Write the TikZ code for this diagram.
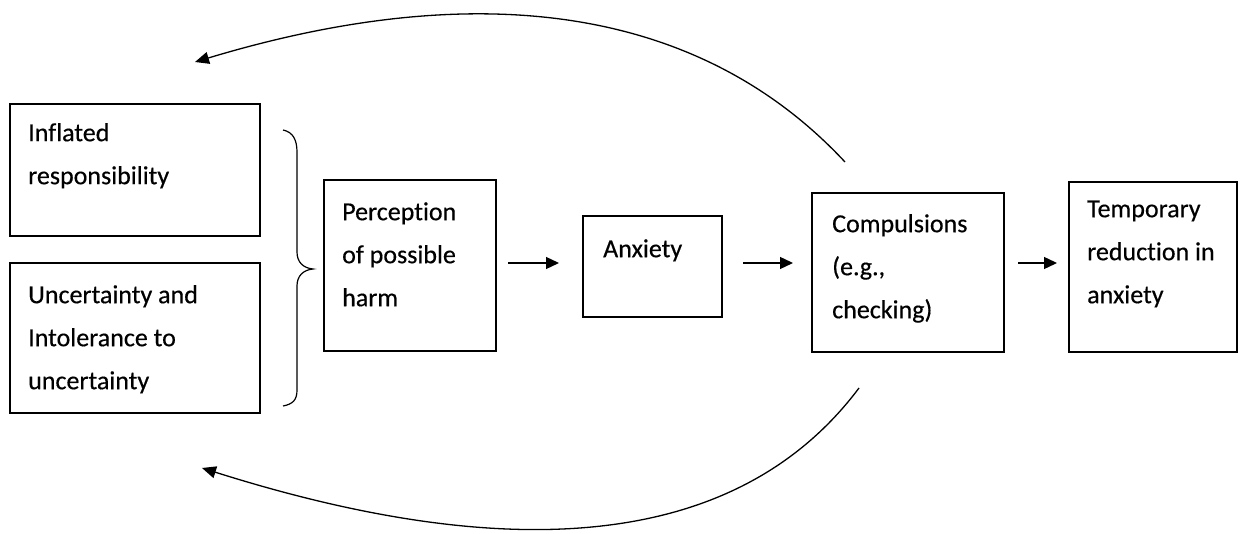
\documentclass[tikz,border=0pt]{standalone}
\usepackage{fontspec}
\setmainfont{Carlito}[Ligatures=NoCommon,FakeBold=0.4]
\usetikzlibrary{arrows.meta}
\begin{document}
\begin{tikzpicture}[x=1pt,y=-1pt,
  box/.style={draw=black,line width=1.3pt,inner sep=0pt,fill=none},
  txt/.style={anchor=north west,inner sep=0pt,align=left,font=\fontsize{26}{43}\selectfont},
  arr/.style={line width=1.3pt,-{Triangle[length=13pt,width=12pt]}},
  carr/.style={line width=1.3pt,-{Triangle[length=14pt,width=12pt]}}]
\useasboundingbox[fill=white] (0,0) rectangle (1244,534);
% boxes
\node[box,minimum width=250pt,minimum height=132pt] (b1) at (135,170) {};
\node[box,minimum width=250pt,minimum height=150pt] (b2) at (135,338) {};
\node[box,minimum width=172pt,minimum height=171pt] (perc) at (410,265.5) {};
\node[box,minimum width=139pt,minimum height=101pt] (anx) at (652.5,266.5) {};
\node[box,minimum width=192pt,minimum height=159pt] (comp) at (908,272.5) {};
\node[box,minimum width=168pt,minimum height=170pt] (temp) at (1153,267) {};
% texts (first baseline minus strut height 30.1)
\node[txt] (t1) at (28,110.9) {\strut Inflated\\responsibility};
\node[txt] (t2) at (28,272.9) {\strut Uncertainty and\\Intolerance to\\uncertainty};
\node[txt] (t3) at (342,189.9) {\strut Perception\\of possible\\harm};
\node[txt] (t4) at (603,226.9) {\strut Anxiety};
\node[txt] (t5) at (832,201.9) {\strut Compulsions\\(e.g.,\\checking)};
\node[txt] (t6) at (1087,186.9) {\strut Temporary\\reduction in\\anxiety};
% brace
\draw[line width=1.2pt] (283,130) .. controls (293,132) and (297,140) .. (297,152) -- (297,252)
  .. controls (297,262) and (303,268) .. (313,269)
  .. controls (303,270) and (297,276) .. (297,286) -- (297,390)
  .. controls (297,400) and (293,404) .. (283,406);
% straight arrows
\coordinate (a1s) at (508,263); \coordinate (a1e) at (559,263);
\coordinate (a2s) at (743,263); \coordinate (a2e) at (793,263);
\coordinate (a3s) at (1018,263); \coordinate (a3e) at (1057,263);
\draw[arr] (a1s) -- (a1e);
\draw[arr] (a2s) -- (a2e);
\draw[arr] (a3s) -- (a3e);
% feedback curves
\coordinate (c1s) at (845,162); \coordinate (c1e) at (195,62);
\coordinate (c2s) at (859,388); \coordinate (c2e) at (202,468);
\draw[carr] (c1s) .. controls (709,16) and (497,-29) .. (c1e);
\draw[carr] (c2s) .. controls (739,548) and (515,567) .. (c2e);
\end{tikzpicture}
\end{document}
